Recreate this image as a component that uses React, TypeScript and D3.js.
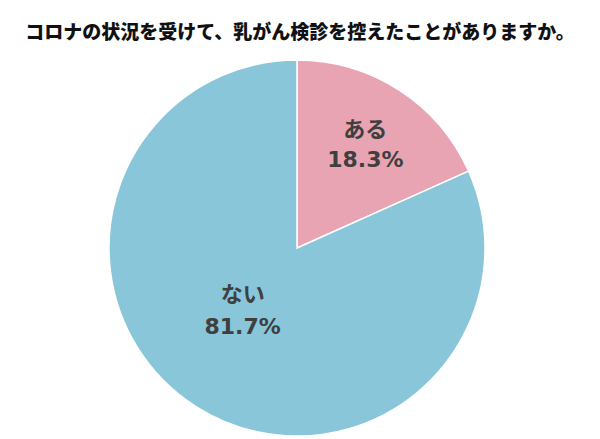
import React from "react";
import * as d3 from "d3";

const title = "コロナの状況を受けて、乳がん検診を控えたことがありますか。";
const labels = ["ある", "ない"];
const values = [18.3, 81.7];
const colors = ["#E8A4B3", "#89C6D9"];

const width = 600;
const height = 439;
const cx = 297;
const cy = 248;
const radius = 188;

// nudges of the label block from the arc centroid (label baseline, value baseline)
const labelShift = [
  { dx: 7, y1: -16, y2: 14 },
  { dx: 7, y1: -41, y2: -9 },
];

const App = () => {
  const pie = d3
    .pie<number>()
    .sort(null)
    .value((d) => d);
  const arcs = pie(values);
  const arc = d3.arc<d3.PieArcDatum<number>>().innerRadius(0).outerRadius(radius);
  const labelArc = d3
    .arc<d3.PieArcDatum<number>>()
    .innerRadius(radius * 0.6)
    .outerRadius(radius * 0.6);

  return (
    <svg
      width={width}
      height={height}
      style={{ position: "absolute", left: 0, top: 0, background: "#fff" }}
      fontFamily="'Noto Sans CJK JP', 'Noto Sans', sans-serif"
    >
      <text
        x={300}
        y={39}
        textAnchor="middle"
        fontSize={19}
        fontWeight={900}
        fill="#111"
      >
        {title}
      </text>
      <g transform={`translate(${cx},${cy})`}>
        {arcs.map((d, i) => (
          <path key={labels[i]} d={arc(d) ?? ""} fill={colors[i]} stroke="#fff" strokeWidth={1.5} />
        ))}
        {arcs.map((d, i) => {
          const [x, y] = labelArc.centroid(d);
          const s = labelShift[i];
          return (
            <g key={"l" + labels[i]} transform={`translate(${x + s.dx},${y})`} fill="#3f3f3f" fontWeight="bold" textAnchor="middle">
              <text y={s.y1} fontSize={22}>{labels[i]}</text>
              <text y={s.y2} fontSize={22} fontFamily="'DejaVu Sans', Verdana, sans-serif">
                {values[i].toFixed(1)}%
              </text>
            </g>
          );
        })}
      </g>
    </svg>
  );
};

export default App;
